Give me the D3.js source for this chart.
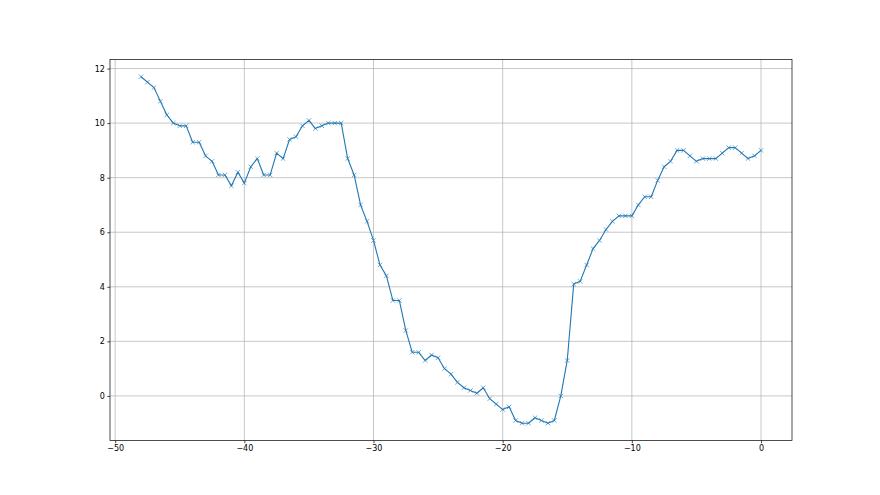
<!DOCTYPE html>
<html>
<head>
<meta charset="utf-8">
<script src="https://cdn.jsdelivr.net/npm/d3@7"></script>
<style>
  body { margin: 0; background: #fff; }
  .axis text { font-family: "DejaVu Sans", sans-serif; font-size: 8px; fill: #000; }
  .axis path, .axis line { stroke: #000; stroke-width: 0.7; }
  .grid line { stroke: #b0b0b0; stroke-width: 0.7; }
</style>
</head>
<body>
<svg id="chart" width="880" height="495"></svg>
<script>
// x positions run from -48 to 0 in steps of 0.5
var xValues = d3.range(-48, 0.001, 0.5);
var yValues = [
  11.7, 11.5, 11.3, 10.8, 10.3, 10.0, 9.9, 9.9, 9.3, 9.3,
  8.8, 8.6, 8.1, 8.1, 7.7, 8.2, 7.8, 8.4, 8.7, 8.1,
  8.1, 8.9, 8.7, 9.4, 9.5, 9.9, 10.1, 9.8, 9.9, 10.0,
  10.0, 10.0, 8.7, 8.1, 7.0, 6.4, 5.7, 4.8, 4.4, 3.5,
  3.5, 2.4, 1.6, 1.6, 1.3, 1.5, 1.4, 1.0, 0.8, 0.5,
  0.3, 0.2, 0.1, 0.3, -0.1, -0.3, -0.5, -0.4, -0.9, -1.0,
  -1.0, -0.8, -0.9, -1.0, -0.9, 0.0, 1.3, 4.1, 4.2, 4.8,
  5.4, 5.7, 6.1, 6.4, 6.6, 6.6, 6.6, 7.0, 7.3, 7.3,
  7.9, 8.4, 8.6, 9.0, 9.0, 8.8, 8.6, 8.7, 8.7, 8.7,
  8.9, 9.1, 9.1, 8.9, 8.7, 8.8, 9.0
];
var xTicks = [-50, -40, -30, -20, -10, 0];
var yTicks = [0, 2, 4, 6, 8, 10, 12];

var data = xValues.map(function(x, i) { return {x: x, y: yValues[i]}; });

var svg = d3.select('#chart'),
    margin = {top: 59.4, right: 88, bottom: 54.45, left: 110},
    width = 880 - margin.left - margin.right,
    height = 495 - margin.top - margin.bottom,
    g = svg.append('g').attr('transform', 'translate(' + margin.left + ',' + margin.top + ')');

// matplotlib style 5% margins
var xExt = d3.extent(xValues), yExt = d3.extent(yValues);
var xPad = (xExt[1] - xExt[0]) * 0.05, yPad = (yExt[1] - yExt[0]) * 0.05;

var x = d3.scaleLinear().domain([xExt[0] - xPad, xExt[1] + xPad]).range([0, width]);
var y = d3.scaleLinear().domain([yExt[0] - yPad, yExt[1] + yPad]).range([height, 0]);

// grid
g.append('g').attr('class', 'grid')
  .selectAll('line.v').data(xTicks).enter().append('line')
    .attr('x1', function(d) { return x(d); }).attr('x2', function(d) { return x(d); })
    .attr('y1', 0).attr('y2', height);
g.select('.grid')
  .selectAll('line.h').data(yTicks).enter().append('line')
    .attr('y1', function(d) { return y(d); }).attr('y2', function(d) { return y(d); })
    .attr('x1', 0).attr('x2', width);

var minus = function(d) { return d < 0 ? '\u2212' + Math.abs(d) : String(d); };

g.append('g')
    .attr('class', 'axis')
    .attr('transform', 'translate(0,' + height + ')')
    .call(d3.axisBottom(x).tickValues(xTicks).tickFormat(minus).tickSize(2.7).tickPadding(2.5))
    .select('.domain').remove();

g.append('g')
    .attr('class', 'axis')
    .call(d3.axisLeft(y).tickValues(yTicks).tickFormat(minus).tickSize(2.7).tickPadding(2.5))
    .select('.domain').remove();

// frame
g.append('rect')
    .attr('width', width).attr('height', height)
    .attr('fill', 'none').attr('stroke', '#000').attr('stroke-width', 0.7);

var line = d3.line()
    .x(function(d) { return x(d.x); })
    .y(function(d) { return y(d.y); });

g.append('path')
    .datum(data)
    .attr('fill', 'none')
    .attr('stroke', '#1f77b4')
    .attr('stroke-width', 1.1)
    .attr('stroke-linejoin', 'round')
    .attr('d', line);

var m = 2.2;
g.append('g')
  .selectAll('path').data(data).enter().append('path')
    .attr('d', function(d) {
      var cx = x(d.x), cy = y(d.y);
      return 'M' + (cx - m) + ',' + (cy - m) + 'L' + (cx + m) + ',' + (cy + m) +
             'M' + (cx - m) + ',' + (cy + m) + 'L' + (cx + m) + ',' + (cy - m);
    })
    .attr('stroke', '#1f77b4')
    .attr('stroke-opacity', 0.8)
    .attr('stroke-width', 0.8);
</script>
</body>
</html>
